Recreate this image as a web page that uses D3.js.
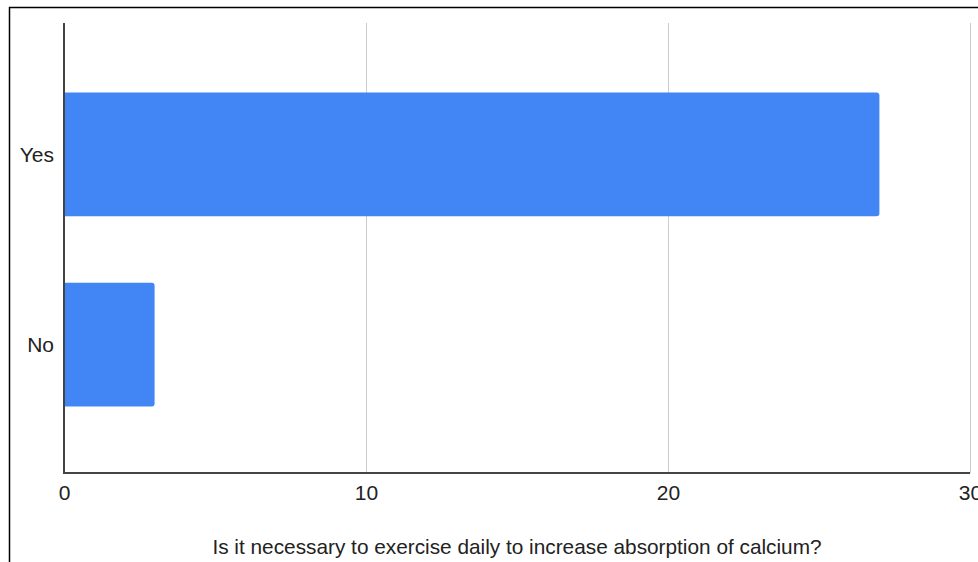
<!DOCTYPE html>
<html>
<head>
<meta charset="utf-8">
<script src="https://cdn.jsdelivr.net/npm/d3@7"></script>
<style>
  html, body { margin: 0; padding: 0; background: #fff; }
  svg { display: block; font-family: Arial, "Liberation Sans", sans-serif; }
</style>
</head>
<body>
<svg id="chart" width="978" height="562"></svg>
<script>
// Survey answers and their counts
const categories = ["Yes", "No"];
const counts = [27, 3];
const xTicks = [0, 10, 20, 30];
const xTitle = "Is it necessary to exercise daily to increase absorption of calcium?";

const W = 978, H = 562;
const plot = { left: 64, right: 970, top: 23, bottom: 473 };
const FONT = "Arial, 'Liberation Sans', sans-serif";

const svg = d3.select("#chart");

// frame line along the top and left edges
svg.append("line").attr("x1", 9).attr("x2", W).attr("y1", 7.5).attr("y2", 7.5)
  .attr("stroke", "#000").attr("stroke-width", 1.5);
svg.append("line").attr("x1", 9.5).attr("x2", 9.5).attr("y1", 7).attr("y2", H)
  .attr("stroke", "#000").attr("stroke-width", 1.5);

const x = d3.scaleLinear().domain([0, 30]).range([plot.left, plot.right]);
const y = d3.scaleBand().domain(categories).range([24, 475])
  .paddingInner(0.35).paddingOuter(0.36);

// vertical gridlines
svg.append("g").selectAll("line").data(xTicks.filter(t => t > 0)).join("line")
  .attr("x1", d => Math.round(x(d)) + 0.5).attr("x2", d => Math.round(x(d)) + 0.5)
  .attr("y1", plot.top).attr("y2", plot.bottom)
  .attr("stroke", "#cccccc").attr("stroke-width", 1);

// bars with slightly rounded right ends
const r = 3;
svg.append("g").selectAll("path").data(categories.map((c, i) => ({ c, v: counts[i] }))).join("path")
  .attr("fill", "#4285f4")
  .attr("d", d => {
    const x0 = x(0), x1 = x(d.v), y0 = y(d.c), y1 = y(d.c) + y.bandwidth();
    return `M${x0},${y0}H${x1 - r}Q${x1},${y0} ${x1},${y0 + r}V${y1 - r}Q${x1},${y1} ${x1 - r},${y1}H${x0}Z`;
  });

// x axis
const xAxis = d3.axisBottom(x).tickValues(xTicks).tickSize(0).tickPadding(0).tickFormat(d3.format("d"));
const gx = svg.append("g").attr("transform", `translate(0,${plot.bottom})`).call(xAxis);
gx.select(".domain").remove();
gx.selectAll("text").attr("dy", null).attr("y", 27)
  .attr("font-size", 21).attr("fill", "#222").attr("font-family", FONT);

// y axis labels
const yAxis = d3.axisLeft(y).tickSize(0).tickPadding(10);
const gy = svg.append("g").attr("transform", `translate(${plot.left},0)`).call(yAxis);
gy.select(".domain").remove();
gy.selectAll("text").attr("dy", "0.35em")
  .attr("font-size", 21).attr("fill", "#222").attr("font-family", FONT);

// axis lines
svg.append("line").attr("x1", plot.left).attr("x2", plot.left).attr("y1", plot.top).attr("y2", plot.bottom + 1)
  .attr("stroke", "#444").attr("stroke-width", 2);
svg.append("line").attr("x1", plot.left - 1).attr("x2", plot.right).attr("y1", plot.bottom).attr("y2", plot.bottom)
  .attr("stroke", "#444").attr("stroke-width", 2);

// axis title
svg.append("text").attr("x", 517).attr("y", 554).attr("text-anchor", "middle")
  .attr("font-size", 20.8).attr("fill", "#222").attr("font-family", FONT).text(xTitle);
</script>
</body>
</html>
